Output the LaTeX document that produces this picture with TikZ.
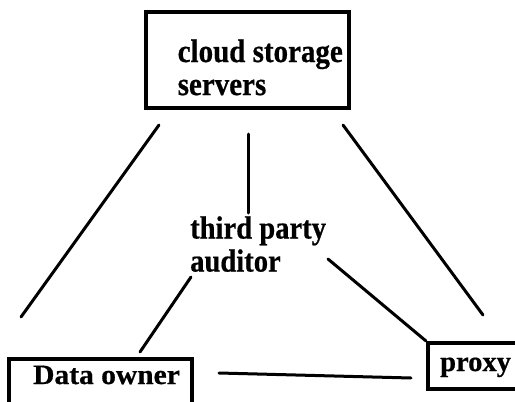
\documentclass[tikz,border=0pt]{standalone}
\usepackage{fontspec}
\setmainfont{Liberation Serif}[BoldFeatures={FakeBold=0.6}]
\newcommand{\stack}[3]{\scalebox{1}[#1]{\begin{tabular}[t]{@{}l@{}}#2\\#3\end{tabular}}}
\begin{document}
\begin{tikzpicture}[x=1pt,y=-1pt,
  box/.style={draw,line width=4pt,inner sep=0pt,rectangle},
  lbl/.style={font=\fontsize{29}{29.5}\selectfont\bfseries,inner sep=0pt},
  link/.style={line width=3pt,line cap=round}]
\useasboundingbox (0,0) rectangle (515,402);

% boxes
\node[box,minimum width=203pt,minimum height=96pt] (cloud) at (247.5,60) {};
\node[box,minimum width=183pt,minimum height=45pt] (owner) at (100.5,381.5) {};
\node[box,minimum width=89pt,minimum height=46pt] (proxy) at (472.5,366) {};

% labels (first baseline given)
\node[lbl,anchor=base west] (cloudtxt) at (177.5,62) {\stack{1.12}{cloud storage}{servers}};
\node[lbl,anchor=base west,font=\fontsize{28.6}{29.5}\selectfont\bfseries] (tpa) at (190,238.5) {\stack{1.12}{third party}{auditor}};
\node[lbl,anchor=base west,font=\fontsize{29.5}{33}\selectfont\bfseries] (ownertxt) at (33,384) {\scalebox{1}[0.95]{Data owner}};
\node[lbl,anchor=base west,font=\fontsize{28.5}{33}\selectfont\bfseries] (proxytxt) at (440,371) {proxy};

% connector end points
\coordinate (cl) at (159,125);
\coordinate (ol) at (21,317);
\coordinate (cm) at (248,134);
\coordinate (tm) at (248,213);
\coordinate (cr) at (343,125);
\coordinate (pr) at (483,315);
\coordinate (tl) at (191,277);
\coordinate (ot) at (140,352);
\coordinate (tr) at (328,259);
\coordinate (ob) at (219,373);
\coordinate (pb) at (411,378);

% connectors
\draw[link] (cl) -- (ol);
\draw[link] (cm) -- (tm);
\draw[link] (cr) -- (pr);
\draw[link] (tl) -- (ot);
\draw[link] (tr) -- (proxy.north west);
\draw[link] (ob) -- (pb);
\end{tikzpicture}
\end{document}
